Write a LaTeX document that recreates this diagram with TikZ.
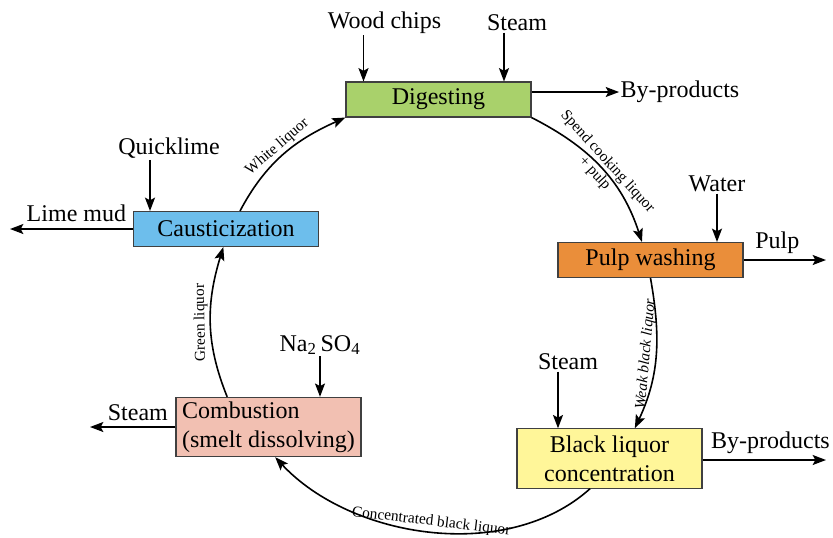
\documentclass[tikz,border=0pt]{standalone}
\usepackage{fontspec}
\setmainfont{Liberation Serif}
\usepackage{xcolor}
\usetikzlibrary{
  arrows.meta,
  positioning
}
\definecolor{digGreen}{RGB}{169,209,107}
\definecolor{causBlue}{RGB}{109,190,236}
\definecolor{washOrange}{RGB}{234,142,58}
\definecolor{blcYellow}{RGB}{255,246,153}
\definecolor{combPink}{RGB}{242,192,178}
\tikzset{
  stage/.style={
    draw, rectangle,
    minimum width=138.75pt, minimum height=26.25pt,
    draw=black!75, line width=0.8pt,
    inner sep=2pt, align=center,
    font=\fontsize{18}{21.5}\selectfont
  },
  tall stage/.style={
    stage, minimum height=44.5pt
  },
  io label/.style={
    inner sep=1pt,
    font=\fontsize{18}{21.5}\selectfont
  },
  flow/.style={
    -{Stealth[length=10pt, width=7.5pt, inset=2pt]}, line width=1.2pt
  },
  flow label/.style={
    inner sep=1.5pt,
    font=\fontsize{11.5}{13}\selectfont
  },
}

\begin{document}
\begin{tikzpicture}[x=0.75pt, y=0.75pt]

  \useasboundingbox (0,0) rectangle (833,-537);

  % process stages
  \node[stage, fill=digGreen]  (dig)  at (438.5,-99.5) {Digesting};
  \node[stage, fill=causBlue]  (caus) at (226,-229)    {Causticization};
  \node[stage, fill=washOrange] (wash) at (650.5,-260) {Pulp washing};
  \node[tall stage, fill=blcYellow] (blc) at (609.5,-458.5)
    {Black liquor\\concentration};
  \node[tall stage, fill=combPink, align=left] (comb) at (268.5,-427)
    {Combustion\\(smelt dissolving)};

  % inputs
  \node[io label] (wood)   at (384.5,-23) {Wood chips};
  \node[io label] (steamA) at (517,-23)   {Steam};
  \node[io label] (quick)  at (169,-148)  {Quicklime};
  \node[io label] (water)  at (717,-184)  {Water};
  \node[io label] (steamB) at (568,-362)  {Steam};
  \node[io label] (salt)   at (320,-345)  {Na\textsubscript{2}\,SO\textsubscript{4}};
  \node[io label] (byTop)  at (680,-92)   {By-products};

  \coordinate (woodIn)   at ([xshift=-15.75pt]wood.south);
  \coordinate (steamAIn) at ([xshift=-9.75pt]steamA.south);
  \coordinate (quickIn)  at ([xshift=-14.25pt]quick.south);
  \coordinate (steamBIn) at ([xshift=-7.5pt]steamB.south);

  \draw[flow] (woodIn)   -- (woodIn |- dig.north);
  \draw[flow] (steamAIn) -- (steamAIn |- dig.north);
  \draw[flow] (quickIn)  -- (quickIn |- caus.north);
  \draw[flow] (water.south) -- (water.south |- wash.north);
  \draw[flow] (steamBIn) -- (steamBIn |- blc.north);
  \draw[flow] (salt.south) -- (salt.south |- comb.north);

  % outputs
  \coordinate (limeEnd)  at (10,-229);
  \coordinate (pulpEnd)  at (826,-260);
  \coordinate (byEnd)    at (826,-460);
  \coordinate (steamEnd) at (90,-427);

  \draw[flow] (dig.east |- byTop.west) -- (byTop.west);
  \draw[flow] (caus.west) -- (limeEnd)
    node[io label, pos=0.46, above=4pt] (lime) {Lime mud};
  \draw[flow] (wash.east) -- (pulpEnd)
    node[io label, pos=0.41, above=3pt] (pulp) {Pulp};
  \draw[flow] (blc.east |- byEnd) -- (byEnd)
    node[io label, pos=0.55, above=3pt] (byRight) {By-products};
  \draw[flow] (comb.west) -- (steamEnd)
    node[io label, pos=0.44, above=3pt] (steamC) {Steam};

  % liquor cycle
  \draw[flow] ([xshift=10.5pt]caus.north) to[out=62, in=204]
    node[flow label, sloped, above] (white) {White liquor} (dig.south west);
  \draw[flow] (dig.south east) to[out=-27, in=108]
    node[flow label, sloped, align=center] (spent)
      {Spend cooking liquor\\+ pulp} ([xshift=-6.4pt]wash.north);
  \draw[flow] (wash.south) to[out=-80, in=65]
    node[flow label, sloped, above, font=\fontsize{11.5}{13}\selectfont\itshape]
      (weak) {Weak black liquor} ([xshift=19pt]blc.north);
  \draw[flow] ([xshift=-14.6pt]blc.south) to[out=222, in=313, looseness=0.9]
    node[flow label, sloped, above] (conc) {Concentrated black liquor}
    ([xshift=5pt]comb.south);
  \draw[flow] ([xshift=-31pt]comb.north) to[out=112, in=253]
    node[flow label, sloped, allow upside down, above] (green) {Green liquor}
    ([xshift=-2pt]caus.south);

\end{tikzpicture}
\end{document}
